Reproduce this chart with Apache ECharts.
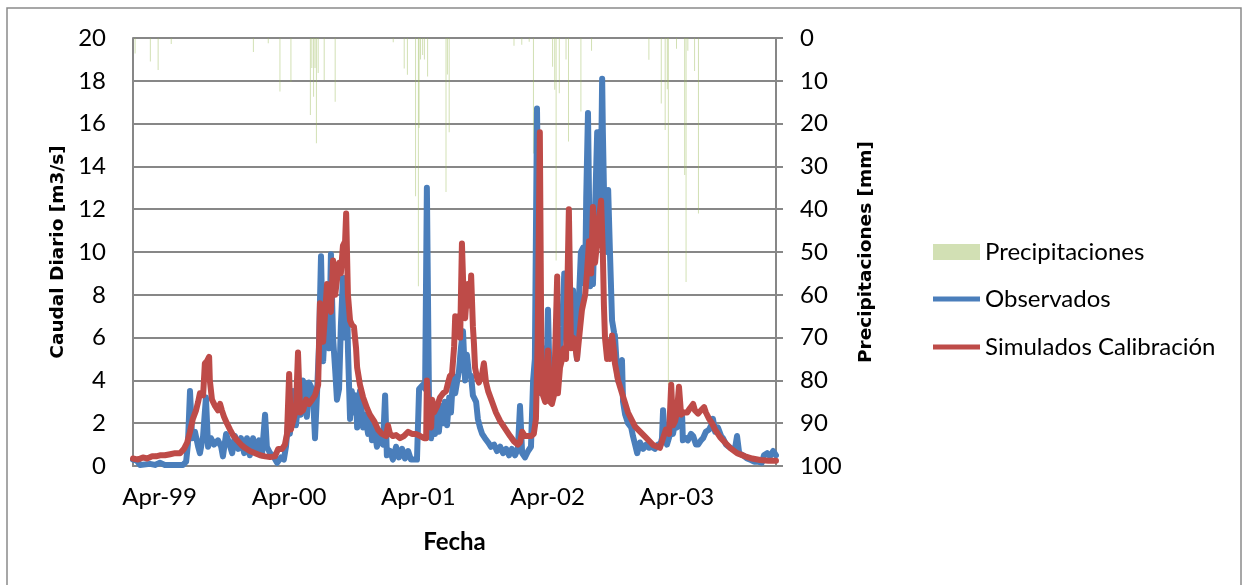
<!DOCTYPE html>
<html>
<head>
<meta charset="utf-8">
<script src="https://cdn.jsdelivr.net/npm/echarts@6/dist/echarts.min.js"></script>
<style>
  html, body { margin: 0; padding: 0; background: #ffffff; }
  #chart { width: 1248px; height: 585px; }
</style>
</head>
<body>
<div id="chart"></div>
<script>
// Record starts on 1 April 1999; x values are days since that date.
const START_DATE = '1999-04-01';
const END_DATE = '2004-03-21';

// Year ticks on the date axis
const tickDates = ['1999-04-01', '2000-04-01', '2001-04-01', '2002-04-01', '2003-04-01'];
const tickLabels = ['Apr-99', 'Apr-00', 'Apr-01', 'Apr-02', 'Apr-03'];

// Observed daily discharge [day, m3/s]
const observados = [
  [0,0.3],[11,0.25],[20,0.05],[48,0.1],[62,0.05],[76,0.15],[90,0.05],[119,0.05],[141,0.05],[150,0.2],
  [155,1.0],[161,3.5],[167,1.3],[175,1.6],[184,0.9],[189,0.6],[198,1.4],[206,3.2],[212,0.9],[220,1.3],
  [229,1.0],[240,1.2],[249,0.9],[254,0.45],[263,1.5],[271,1.1],[280,0.6],[288,1.4],[297,0.8],[305,1.3],
  [314,0.6],[322,1.3],[330,0.5],[339,1.3],[347,0.7],[356,1.2],[364,0.5],[373,2.4],[378,0.9],[387,0.6],
  [395,0.5],[407,0.15],[418,0.4],[426,0.3],[432,0.9],[438,2.0],[443,1.5],[452,3.5],[460,1.9],[469,3.3],
  [474,2.4],[480,4.0],[486,3.6],[491,2.3],[497,3.9],[503,3.7],[508,3.4],[514,1.3],[520,3.5],[525,5.5],
  [531,9.8],[534,7.5],[537,4.9],[542,6.5],[548,8.0],[554,5.5],[559,9.9],[565,6.0],[571,4.5],[576,3.1],
  [582,3.6],[587,6.5],[593,8.8],[599,6.0],[604,8.6],[607,5.5],[613,2.2],[618,3.5],[624,2.5],[630,3.3],
  [633,1.8],[641,3.5],[650,1.8],[655,2.4],[664,1.5],[669,2.2],[675,1.2],[681,1.8],[689,0.9],[698,1.4],
  [706,1.0],[712,3.3],[717,0.5],[726,0.7],[734,0.3],[743,0.9],[751,0.4],[760,0.8],[768,0.35],[777,0.7],
  [785,0.3],[794,0.3],[802,0.3],[808,3.6],[819,3.8],[825,3.6],[830,13.0],[836,3.0],[842,1.3],[847,2.5],
  [853,1.5],[859,2.6],[864,1.6],[870,2.8],[876,2.0],[881,3.0],[887,1.9],[893,3.2],[898,2.5],[904,4.2],
  [910,3.4],[915,3.9],[921,4.5],[926,5.5],[932,6.3],[938,4.0],[943,5.2],[949,4.3],[955,4.2],[960,3.3],
  [969,3.0],[974,2.2],[980,1.8],[986,1.5],[994,1.3],[1003,1.1],[1011,0.9],[1020,1.0],[1028,0.7],[1037,0.9],
  [1045,0.6],[1054,0.8],[1062,0.5],[1070,0.8],[1079,0.5],[1087,0.8],[1093,2.8],[1099,0.6],[1107,0.4],[1116,0.7],
  [1124,0.9],[1130,4.0],[1135,5.0],[1141,16.7],[1147,8.0],[1152,3.4],[1158,5.5],[1164,3.5],[1169,5.0],[1172,7.3],
  [1178,3.1],[1186,4.2],[1195,3.5],[1200,4.8],[1206,5.4],[1212,6.5],[1218,9.0],[1223,6.5],[1229,5.6],[1234,6.0],
  [1240,7.5],[1243,8.2],[1248,6.0],[1254,5.0],[1260,8.0],[1265,10.0],[1271,10.2],[1277,8.5],[1280,12.5],[1285,16.5],
  [1291,8.4],[1296,9.5],[1299,8.5],[1305,12.0],[1311,15.6],[1316,10.5],[1322,14.0],[1325,18.1],[1327,15.6],[1330,13.0],
  [1333,12.7],[1339,10.0],[1342,12.9],[1347,10.0],[1353,6.8],[1359,6.2],[1361,6.1],[1367,4.5],[1370,4.0],[1375,4.2],
  [1381,4.95],[1384,3.0],[1390,2.4],[1398,2.0],[1407,1.8],[1412,1.4],[1418,1.0],[1424,0.6],[1432,1.1],[1441,0.8],
  [1449,1.0],[1457,0.85],[1466,0.9],[1474,0.8],[1483,1.0],[1488,0.9],[1494,1.3],[1497,2.6],[1503,1.2],[1508,1.0],
  [1517,1.5],[1525,1.5],[1531,2.0],[1536,1.8],[1545,2.2],[1551,2.3],[1553,1.2],[1562,1.3],[1567,1.2],[1576,1.5],
  [1582,1.4],[1590,1.0],[1596,1.0],[1604,1.2],[1610,1.3],[1618,1.6],[1627,1.7],[1633,1.9],[1638,2.2],[1644,1.6],
  [1652,1.8],[1661,1.4],[1666,1.3],[1675,1.0],[1683,0.9],[1692,0.8],[1700,0.8],[1706,1.4],[1712,0.6],[1723,0.5],
  [1734,0.35],[1743,0.3],[1754,0.2],[1765,0.2],[1776,0.15],[1782,0.5],[1791,0.6],[1799,0.45],[1808,0.7],[1816,0.5]
];

// Simulated daily discharge, calibration run [day, m3/s]
const simulados = [
  [0,0.35],[14,0.3],[28,0.4],[40,0.35],[54,0.45],[65,0.45],[76,0.5],[90,0.5],[105,0.55],[119,0.6],
  [133,0.6],[144,0.8],[153,1.1],[161,1.6],[169,2.2],[178,2.6],[184,3.0],[189,3.4],[198,3.3],[203,4.8],
  [209,4.9],[215,5.1],[217,4.0],[223,3.1],[232,2.8],[240,2.6],[246,2.9],[251,2.6],[257,2.3],[265,2.0],
  [274,1.7],[282,1.45],[294,1.2],[305,1.0],[316,0.85],[330,0.7],[345,0.6],[359,0.5],[373,0.45],[387,0.42],
  [401,0.45],[410,0.8],[421,0.8],[429,1.0],[435,1.5],[441,4.3],[446,1.7],[455,2.3],[460,2.6],[466,5.3],
  [472,2.5],[480,2.6],[489,3.1],[497,2.9],[506,3.1],[514,3.3],[523,3.8],[528,7.6],[534,6.5],[537,5.8],
  [542,7.0],[548,8.5],[554,7.5],[559,7.2],[565,9.6],[571,8.0],[576,8.0],[582,9.5],[587,9.0],[593,10.3],
  [599,10.5],[602,11.8],[607,8.0],[613,6.8],[618,6.6],[624,6.5],[630,5.5],[633,4.6],[641,3.8],[650,3.2],
  [661,2.7],[669,2.4],[681,2.1],[692,1.7],[703,1.5],[715,1.4],[720,1.9],[726,1.5],[734,1.4],[743,1.45],
  [754,1.3],[765,1.4],[777,1.6],[788,1.5],[799,1.5],[811,1.4],[822,1.3],[828,1.3],[830,4.0],[836,2.2],
  [842,1.8],[845,3.1],[850,2.5],[859,2.8],[867,3.2],[876,3.4],[884,3.5],[890,3.9],[895,4.2],[901,4.3],
  [907,5.6],[910,7.0],[915,6.5],[918,7.0],[924,6.0],[929,10.4],[935,7.2],[938,6.9],[943,8.0],[946,8.5],
  [952,7.5],[955,8.9],[960,6.5],[963,5.7],[966,4.6],[972,4.1],[977,3.9],[986,4.3],[991,4.8],[997,3.9],
  [1003,3.5],[1014,3.0],[1025,2.5],[1037,2.1],[1051,1.75],[1065,1.4],[1076,1.15],[1087,1.0],[1093,1.1],[1099,1.6],
  [1107,1.4],[1116,1.4],[1124,1.4],[1132,1.5],[1138,2.2],[1143,6.0],[1149,15.6],[1154,3.5],[1164,3.0],[1172,5.4],
  [1178,3.0],[1183,2.9],[1189,3.3],[1198,8.85],[1200,3.4],[1206,4.6],[1212,5.0],[1217,5.5],[1223,5.0],[1231,12.0],
  [1237,5.5],[1243,6.0],[1248,5.7],[1254,5.0],[1263,6.5],[1268,7.3],[1277,8.0],[1282,9.0],[1288,10.5],[1294,9.0],
  [1299,12.1],[1305,9.5],[1311,10.5],[1316,11.5],[1322,12.4],[1327,9.9],[1330,7.5],[1333,6.0],[1339,5.0],[1345,5.8],
  [1347,5.0],[1353,6.1],[1359,5.3],[1361,4.8],[1370,4.0],[1381,3.4],[1398,2.5],[1418,1.84],[1446,1.37],[1469,0.98],
  [1488,0.85],[1497,1.3],[1505,1.7],[1514,1.5],[1520,3.8],[1525,1.9],[1531,2.1],[1536,2.5],[1542,3.7],[1548,2.4],
  [1556,2.5],[1565,2.5],[1573,2.7],[1582,2.9],[1587,2.6],[1596,2.45],[1604,2.6],[1613,2.75],[1618,2.5],[1627,2.2],
  [1635,2.0],[1644,1.7],[1658,1.35],[1672,1.1],[1686,0.85],[1706,0.6],[1729,0.45],[1749,0.35],[1771,0.28],[1794,0.25],
  [1816,0.25]
];

// Daily rainfall [day, mm], plotted downwards from the top on the right axis
const precipitaciones = [
  [6,3.6],[49,5.5],[71,7.5],[108,1.4],[340,3.3],[382,1.2],[415,12.5],[446,10.3],[501,18],[505,7],
  [510,13.7],[514,7],[518,24.6],[523,8.2],[540,9.8],[571,14.9],[735,1],[766,7.1],[775,8.6],[798,37],
  [806,58],[808,21],[812,5],[818,4],[823,5],[832,9],[884,36],[888,8.5],[893,22],[1076,1.8],
  [1098,1.6],[1119,0.9],[1131,27],[1185,6.7],[1191,12.1],[1195,52],[1204,12.9],[1223,5],[1230,24.2],[1265,17.2],
  [1295,3],[1457,5.1],[1492,15.3],[1503,21.5],[1509,12],[1512,81],[1535,2.5],[1558,32],[1562,57],[1567,3],
  [1586,7.7],[1597,41]
];

const DAY_MS = 86400000;
const dayOf = s => Math.round((Date.parse(s) - Date.parse(START_DATE)) / DAY_MS);
const tickDays = tickDates.map(dayOf);

// Year labels sit a little right of each April tick
const LABEL_SHIFT = 75;
const labelDays = tickDays.map(d => d + LABEL_SHIFT);
const labelByDay = {};
labelDays.forEach((d, i) => { labelByDay[d] = tickLabels[i]; });

const GRID_COLOR = '#878787';
const TEXT_FONT = 'Lato';
const TITLE_FONT = 'DejaVu Sans';

const chart = echarts.init(document.getElementById('chart'), null, { renderer: 'canvas' });
chart.setOption({
  animation: false,
  backgroundColor: '#ffffff',
  graphic: [{
    type: 'rect',
    shape: { x: 7, y: 8, width: 1234, height: 600 },
    style: { fill: 'none', stroke: '#8a8a8a', lineWidth: 1.5 },
    silent: true
  }],
  grid: { left: 133, right: 472, top: 38, bottom: 119, containLabel: false },
  legend: [{
    data: ['Precipitaciones'],
    left: 928, top: 232,
    icon: 'rect', itemWidth: 47, itemHeight: 16, itemGap: 0,
    textStyle: { fontFamily: TEXT_FONT, fontSize: 24, color: '#000', lineHeight: 30 }
  }, {
    data: ['Observados', 'Simulados Calibración'],
    orient: 'vertical',
    left: 928, top: 279,
    icon: 'rect', itemWidth: 47, itemHeight: 5, itemGap: 18,
    textStyle: { fontFamily: TEXT_FONT, fontSize: 24, color: '#000', lineHeight: 30 }
  }],
  xAxis: {
    type: 'value',
    min: 0,
    max: dayOf(END_DATE),
    name: 'Fecha',
    nameLocation: 'middle',
    nameGap: 64,
    nameTextStyle: { fontFamily: TEXT_FONT, fontWeight: 'bold', fontSize: 24, color: '#000' },
    axisLine: { show: true, onZero: false, lineStyle: { color: GRID_COLOR, width: 2 } },
    axisTick: { show: false },
    splitLine: { show: false },
    axisLabel: {
      customValues: labelDays,
      formatter: v => labelByDay[v] || '',
      margin: 19,
      fontFamily: TEXT_FONT, fontSize: 24, color: '#000'
    }
  },
  yAxis: [{
    type: 'value',
    min: 0, max: 20, interval: 2,
    position: 'left',
    name: 'Caudal Diario [m3/s]',
    nameLocation: 'middle',
    nameRotate: 90,
    nameGap: 64,
    nameTextStyle: { fontFamily: TITLE_FONT, fontWeight: 'bold', fontSize: 18.5, color: '#000' },
    axisLine: { show: true, lineStyle: { color: GRID_COLOR, width: 2 } },
    axisTick: { show: false },
    splitLine: { show: true, lineStyle: { color: GRID_COLOR, width: 2 } },
    axisLabel: { margin: 27, fontFamily: TEXT_FONT, fontSize: 24, color: '#000' }
  }, {
    type: 'value',
    min: 0, max: 100, interval: 10,
    inverse: true,
    position: 'right',
    name: 'Precipitaciones [mm]',
    nameLocation: 'middle',
    nameRotate: 90,
    nameGap: 81,
    nameTextStyle: { fontFamily: TITLE_FONT, fontWeight: 'bold', fontSize: 18.5, color: '#000' },
    axisLine: { show: true, lineStyle: { color: GRID_COLOR, width: 2 } },
    axisTick: { show: true, inside: false, length: 7, lineStyle: { color: GRID_COLOR, width: 2 } },
    splitLine: { show: false },
    axisLabel: { margin: 24, fontFamily: TEXT_FONT, fontSize: 24, color: '#000' }
  }],
  series: [{
    name: 'Precipitaciones',
    type: 'bar',
    yAxisIndex: 1,
    barWidth: 1,
    itemStyle: { color: '#9BBB59', opacity: 0.45 },
    data: precipitaciones
  }, {
    name: 'Observados',
    type: 'line',
    yAxisIndex: 0,
    symbol: 'none',
    lineStyle: { color: '#4A7EBB', width: 6, cap: 'round', join: 'round' },
    itemStyle: { color: '#4A7EBB' },
    data: observados
  }, {
    name: 'Simulados Calibración',
    type: 'line',
    yAxisIndex: 0,
    symbol: 'none',
    lineStyle: { color: '#BE4B48', width: 6, cap: 'round', join: 'round' },
    itemStyle: { color: '#BE4B48' },
    data: simulados
  }]
});
</script>
</body>
</html>
